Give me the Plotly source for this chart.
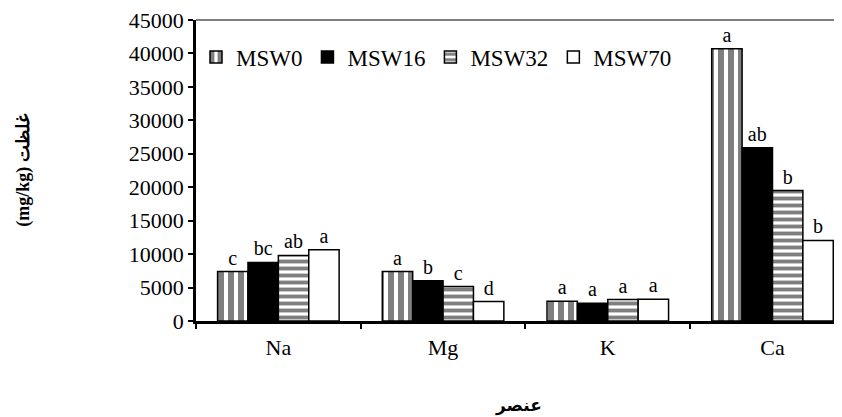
import plotly.graph_objects as go

categories = ["Na", "Mg", "K", "Ca"]
series_names = ["MSW0", "MSW16", "MSW32", "MSW70"]
msw0 = [7400, 7400, 2950, 40700]
msw16 = [8750, 6000, 2650, 25900]
msw32 = [9800, 5150, 3200, 19500]
msw70 = [10650, 2900, 3250, 12050]
letters0 = ["c", "a", "a", "a"]
letters16 = ["bc", "b", "a", "ab"]
letters32 = ["ab", "c", "a", "b"]
letters70 = ["a", "d", "a", "b"]
y_ticks = [0, 5000, 10000, 15000, 20000, 25000, 30000, 35000, 40000, 45000]

FONT = "Liberation Serif"

values = [msw0, msw16, msw32, msw70]
letters = [letters0, letters16, letters32, letters70]
patterns = [
    dict(shape="|", size=10, solidity=0.6, fgcolor="black", bgcolor="white"),
    dict(shape="", fgcolor="black", bgcolor="black"),
    dict(shape="-", size=7, solidity=0.55, fgcolor="black", bgcolor="white"),
    dict(shape="", fgcolor="white", bgcolor="white"),
]
colors = ["white", "black", "white", "white"]

fig = go.Figure()
for name, vals, lab, pat, col in zip(series_names, values, letters, patterns, colors):
    fig.add_trace(go.Bar(
        name=name, x=categories, y=vals, text=lab,
        textposition="outside", constraintext="none", cliponaxis=False,
        textfont=dict(family=FONT, size=20, color="black"),
        marker=dict(color=col, pattern=pat, line=dict(color="black", width=1.5)),
    ))

# page body has an 8px margin, so the figure is offset by 8px in the window
fig.update_layout(
    width=834, height=409,
    margin=dict(l=188, r=0, t=12, b=96, autoexpand=False),
    paper_bgcolor="white", plot_bgcolor="white",
    barmode="group", bargap=0.262, bargroupgap=0,
    font=dict(family=FONT, size=22, color="black"),
    showlegend=True,
    legend=dict(orientation="h", x=0.0, y=0.877, xanchor="left", yanchor="middle",
                font=dict(family=FONT, size=23, color="black"),
                bgcolor="rgba(0,0,0,0)", itemwidth=30, tracegroupgap=0),
    xaxis=dict(
        type="category", range=[-0.5, 3.422], tickson="boundaries", automargin=False,
        ticks="outside", ticklen=5, tickcolor="black", tickwidth=1.5,
        showline=True, linecolor="black", linewidth=2.5, showgrid=False,
        tickfont=dict(family=FONT, size=22, color="black"), ticklabelstandoff=5,
        title=dict(text="<b>عنصر</b>", font=dict(family="DejaVu Sans", size=17, color="black"), standoff=40),
    ),
    yaxis=dict(
        range=[0, 45000], tickvals=y_ticks, ticktext=[str(v) for v in y_ticks], automargin=False,
        ticklabeloverflow="allow",
        ticks="outside", ticklen=5, tickcolor="black", tickwidth=1.5,
        showline=True, linecolor="black", linewidth=2.5, showgrid=False, zeroline=False,
        tickfont=dict(family=FONT, size=22, color="black"),
        title=dict(text="<b>(mg/kg) غلظت</b>", font=dict(family="Liberation Serif", size=18, color="black"), standoff=95),
    ),
    shapes=[dict(type="line", xref="paper", yref="paper", x0=0, x1=1, y0=1, y1=1,
                 line=dict(color="black", width=1.2))],
)

fig.write_html("out.html")
